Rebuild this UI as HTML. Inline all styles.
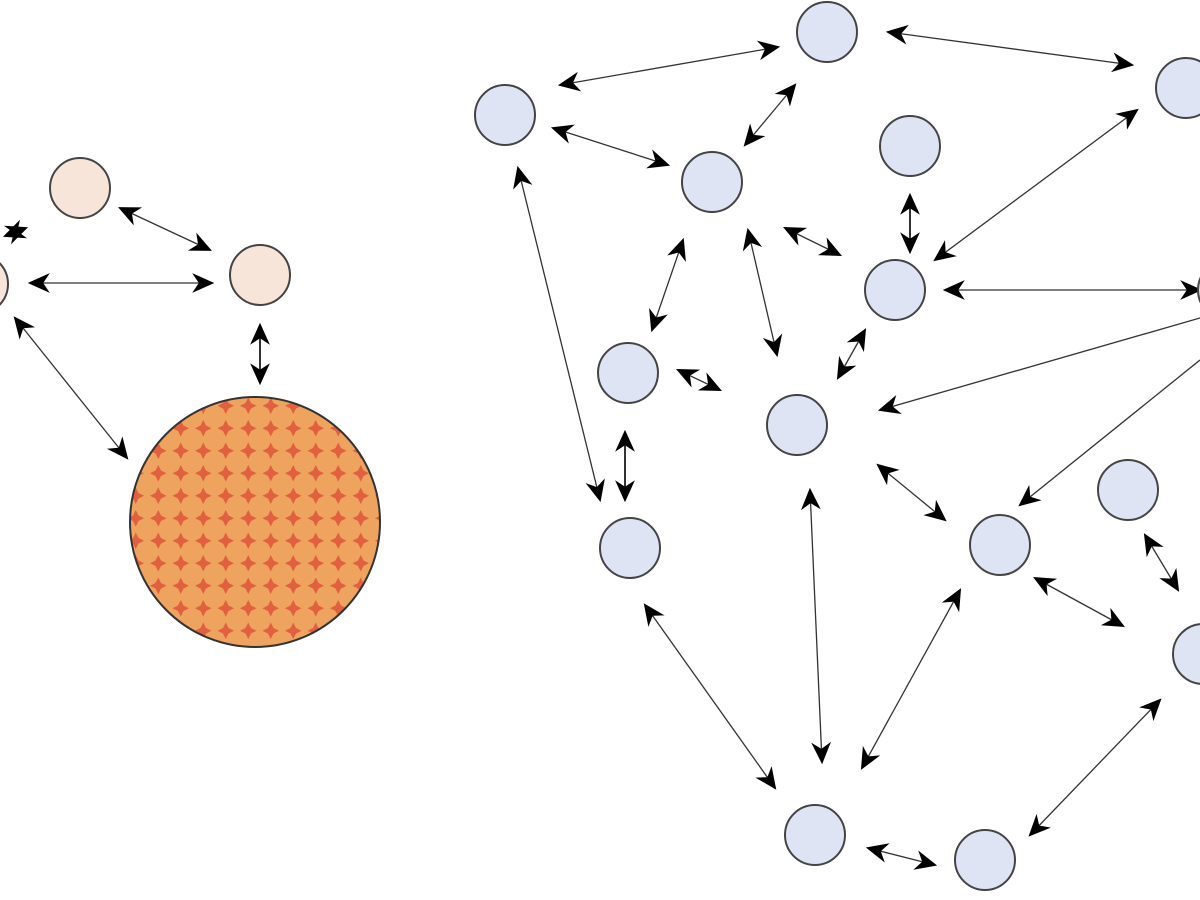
<!DOCTYPE html>
<html><head><meta charset="utf-8"><style>html,body{margin:0;padding:0;background:#fff}svg{display:block}</style></head>
<body>
<svg width="1200" height="900" viewBox="0 0 1200 900" xmlns="http://www.w3.org/2000/svg">
<defs>
<marker id="a" viewBox="0 0 10 10" refX="9" refY="5" markerWidth="22" markerHeight="22" markerUnits="userSpaceOnUse" orient="auto-start-reverse">
<path d="M0,0.5 L10,5 L0,9.5 L3,5 Z" fill="#000"/></marker>
<pattern id="p" x="147" y="417" width="22.5" height="22.5" patternUnits="userSpaceOnUse">
<rect width="22.5" height="22.5" fill="#eea35e"/>
<path d="M11.25,3 L14,8.5 L19.5,11.25 L14,14 L11.25,19.5 L8.5,14 L3,11.25 L8.5,8.5 Z" fill="#e0603f"/>
</pattern>
</defs>
<g stroke="#333" stroke-width="1.3" marker-start="url(#a)" marker-end="url(#a)">
<line x1="120" y1="208" x2="210" y2="250"/>
<line x1="30" y1="283" x2="212" y2="283"/>
<line x1="15" y1="318" x2="127" y2="458"/>
<line x1="260" y1="325" x2="260" y2="383" stroke-width="2"/>
<line x1="5" y1="236" x2="26" y2="228"/>
<line x1="560" y1="85" x2="778" y2="47"/>
<line x1="888" y1="32" x2="1132" y2="65"/>
<line x1="553" y1="128" x2="668" y2="165"/>
<line x1="745" y1="145" x2="795" y2="85"/>
<line x1="518" y1="168" x2="600" y2="500"/>
<line x1="1137" y1="110" x2="935" y2="260"/>
<line x1="910" y1="195" x2="910" y2="252" stroke-width="2"/>
<line x1="683" y1="240" x2="652" y2="330"/>
<line x1="748" y1="230" x2="777" y2="355"/>
<line x1="785" y1="228" x2="840" y2="255"/>
<line x1="945" y1="290" x2="1200" y2="290"/>
<line x1="865" y1="330" x2="838" y2="378"/>
<line x1="678" y1="370" x2="720" y2="390"/>
<line x1="625" y1="432" x2="625" y2="500" stroke-width="2"/>
<line x1="878" y1="465" x2="945" y2="520"/>
<line x1="810" y1="490" x2="822" y2="762"/>
<line x1="645" y1="605" x2="775" y2="788"/>
<line x1="960" y1="590" x2="862" y2="768"/>
<line x1="1035" y1="578" x2="1123" y2="626"/>
<line x1="1145" y1="535" x2="1178" y2="590"/>
<line x1="1160" y1="700" x2="1030" y2="835"/>
<line x1="868" y1="848" x2="935" y2="865"/>
</g>
<g stroke="#333" stroke-width="1.3">
<line x1="1200" y1="318" x2="880" y2="410" marker-end="url(#a)"/>
<line x1="1200" y1="360" x2="1020" y2="505" marker-end="url(#a)"/>
</g>
<g fill="#f8e5d9" stroke="#444" stroke-width="2">
<circle cx="80" cy="188" r="30"/>
<circle cx="260" cy="275" r="30"/>
<circle cx="-22" cy="284" r="30"/>
</g>
<circle cx="255" cy="522" r="125" fill="url(#p)" stroke="#333" stroke-width="2"/>
<g fill="#dfe4f4" stroke="#444" stroke-width="2">
<circle cx="505" cy="115" r="30"/>
<circle cx="827" cy="32" r="30"/>
<circle cx="1186" cy="88" r="30"/>
<circle cx="712" cy="182" r="30"/>
<circle cx="910" cy="146" r="30"/>
<circle cx="895" cy="290" r="30"/>
<circle cx="628" cy="373" r="30"/>
<circle cx="797" cy="425" r="30"/>
<circle cx="630" cy="548" r="30"/>
<circle cx="1128" cy="490" r="30"/>
<circle cx="1000" cy="545" r="30"/>
<circle cx="1203" cy="654" r="30"/>
<circle cx="815" cy="835" r="30"/>
<circle cx="985" cy="860" r="30"/>
<circle cx="1228" cy="290" r="30"/>
</g>
</svg>
</body></html>
